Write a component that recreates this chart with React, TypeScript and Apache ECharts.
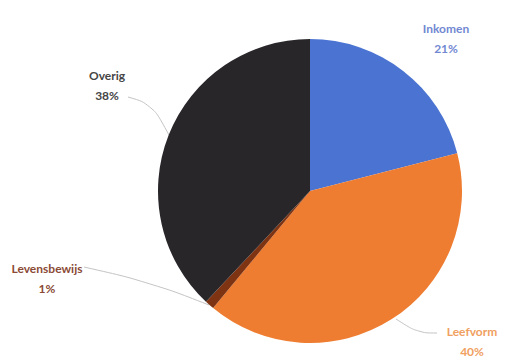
import React, { useEffect, useRef } from "react";
import * as echarts from "echarts";

const categories = ["Inkomen", "Leefvorm", "Levensbewijs", "Overig"];
const values = [21, 40, 1, 38];
const sliceColors = ["#4a73d2", "#ef7d31", "#7e3412", "#29262a"];
const labelColors = ["#7288d2", "#f0a060", "#8a4a36", "#454545"];

// label anchor positions and guide lines (layout, not data)
const labelPos: Record<number, [number, number]> = {
  0: [446, 38],
  1: [472, 341],
  2: [47, 278],
  3: [107, 85],
};
const guidePoints: Record<number, number[][] | undefined> = {
  0: undefined,
  1: [[396, 319], [418, 333], [437, 333]],
  2: [[209, 305], [150, 282], [84, 267]],
  3: [[169, 135], [152, 104], [128, 97]],
};

export default function App() {
  const ref = useRef<HTMLDivElement>(null);
  useEffect(() => {
    if (!ref.current) return;
    const chart = echarts.init(ref.current, null, { renderer: "svg" });
    chart.setOption({
      animation: false,
      backgroundColor: "#ffffff",
      series: [
        {
          type: "pie",
          center: [310, 191],
          radius: 152,
          startAngle: 90,
          clockwise: true,
          avoidLabelOverlap: false,
          data: categories.map((name, i) => ({
            name,
            value: values[i],
            itemStyle: { color: sliceColors[i] },
            label: { color: labelColors[i] },
            labelLine: { show: i !== 0 },
          })),
          label: {
            show: true,
            position: "outside",
            formatter: "{b}\n{d}%",
            fontFamily: "Lato",
            fontWeight: "bold",
            fontSize: 12,
            lineHeight: 20,
            align: "center",
          },
          labelLine: {
            show: true,
            smooth: 0.4,
            lineStyle: { color: "#c4c4c4", width: 1 },
          },
          labelLayout: (params: any) => {
            const p = labelPos[params.dataIndex];
            const g = guidePoints[params.dataIndex];
            const out: any = {
              x: p[0],
              y: p[1],
              align: "center",
              verticalAlign: "middle",
            };
            if (g) out.labelLinePoints = g;
            return out;
          },
        },
      ],
    });
    return () => chart.dispose();
  }, []);
  return (
    <div
      ref={ref}
      style={{ position: "fixed", left: 0, top: 0, width: 531, height: 360 }}
    />
  );
}
